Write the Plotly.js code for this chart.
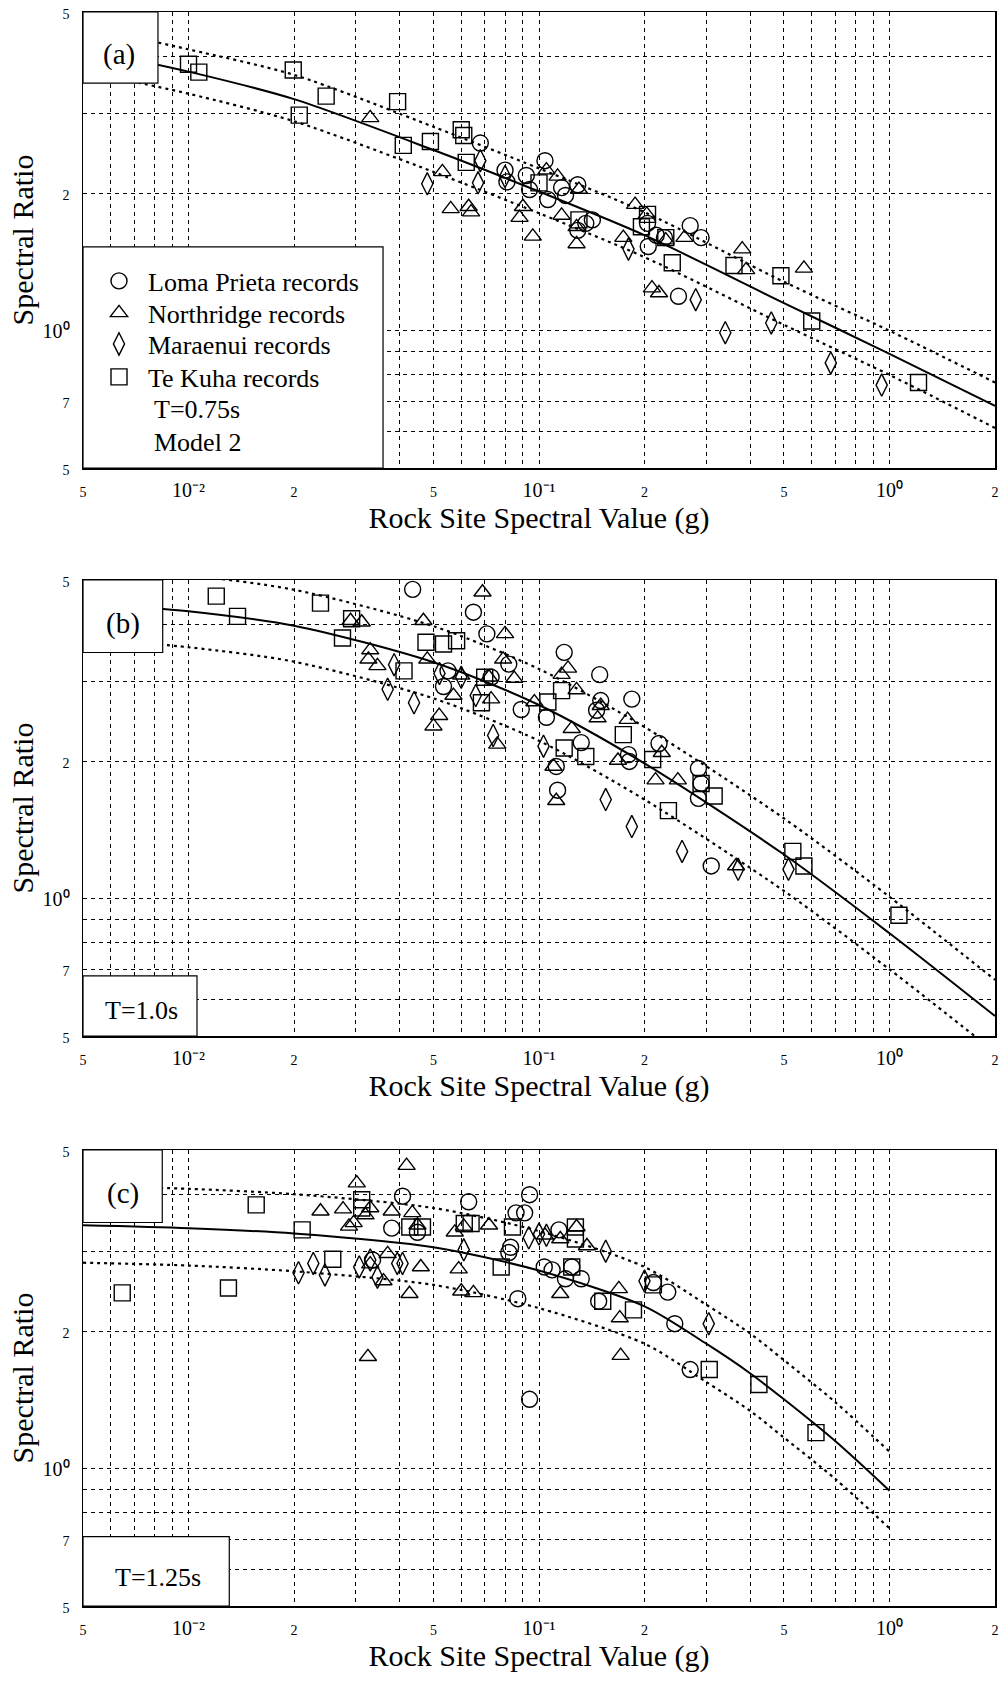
<!DOCTYPE html>
<html>
<head>
<meta charset="utf-8">
<script src="https://cdn.plot.ly/plotly-3.0.1.min.js"></script>
<style>
  html, body { margin: 0; padding: 0; background: #ffffff; }
  #chart { width: 1002px; height: 1681px; }
</style>
</head>
<body>
<div id="chart"></div>
<script>
// ---------- Panel (a): T = 0.75 s ----------
const lomaX_a = [0.068, 0.080, 0.081, 0.092, 0.094, 0.104, 0.106, 0.116, 0.119, 0.129, 0.129, 0.136, 0.142, 0.204, 0.216, 0.228, 0.205, 0.270, 0.290, 0.250];
const lomaY_a = [2.58, 2.25, 2.12, 2.19, 2.04, 2.36, 1.94, 2.06, 1.98, 2.09, 1.66, 1.72, 1.75, 1.72, 1.62, 1.60, 1.53, 1.70, 1.60, 1.19];
const northX_a = [0.033, 0.053, 0.056, 0.063, 0.064, 0.088, 0.090, 0.096, 0.105, 0.113, 0.116, 0.128, 0.128, 0.130, 0.174, 0.188, 0.203, 0.230, 0.260, 0.380, 0.390, 0.570, 0.210, 0.220];
const northY_a = [2.93, 2.23, 1.85, 1.87, 1.82, 1.77, 1.87, 1.61, 2.25, 2.18, 1.79, 1.69, 1.55, 2.04, 1.60, 1.89, 1.80, 1.58, 1.60, 1.51, 1.36, 1.37, 1.24, 1.21];
const maraX_a = [0.048, 0.067, 0.068, 0.080, 0.180, 0.280, 0.340, 0.460, 0.680, 0.950];
const maraY_a = [2.10, 2.11, 2.36, 2.18, 1.51, 1.17, 0.99, 1.04, 0.85, 0.76];
const kuhaX_a = [0.0100, 0.0107, 0.0199, 0.0207, 0.0247, 0.0395, 0.0410, 0.0490, 0.0600, 0.0610, 0.0620, 0.100, 0.130, 0.196, 0.204, 0.230, 0.240, 0.360, 0.490, 0.600, 1.210];
const kuhaY_a = [3.84, 3.69, 3.73, 2.97, 3.27, 3.18, 2.55, 2.60, 2.76, 2.68, 2.34, 2.11, 1.75, 1.69, 1.80, 1.60, 1.41, 1.39, 1.32, 1.05, 0.77];
const modelX_a = [0.005, 0.01, 0.02, 0.05, 0.1, 0.2, 0.5, 1, 2];
const modelMid_a = [4.15, 3.70, 3.22, 2.49, 2.02, 1.62, 1.15, 0.89, 0.684];
const modelUp_a  = [4.65, 4.14, 3.64, 2.80, 2.27, 1.82, 1.28, 1.00, 0.77];
const modelLow_a = [3.71, 3.31, 2.88, 2.23, 1.81, 1.45, 1.03, 0.80, 0.612];

// ---------- Panel (b): T = 1.0 s ----------
const lomaX_b = [0.0436, 0.065, 0.071, 0.055, 0.0534, 0.073, 0.082, 0.089, 0.105, 0.112, 0.113, 0.118, 0.132, 0.146, 0.149, 0.150, 0.180, 0.181, 0.184, 0.220, 0.285, 0.290, 0.285, 0.310];
const lomaY_b = [4.77, 4.25, 3.81, 3.16, 2.92, 3.06, 3.27, 2.60, 2.50, 1.95, 1.73, 3.47, 2.20, 2.59, 3.10, 2.72, 2.07, 2.00, 2.74, 2.19, 1.93, 1.79, 1.66, 1.18];
const northX_b = [0.029, 0.0312, 0.033, 0.0326, 0.0346, 0.0468, 0.048, 0.0519, 0.050, 0.057, 0.060, 0.069, 0.080, 0.072, 0.073, 0.079, 0.085, 0.076, 0.097, 0.110, 0.112, 0.116, 0.121, 0.124, 0.128, 0.147, 0.150, 0.168, 0.179, 0.215, 0.224, 0.249, 0.365];
const northY_b = [4.07, 4.04, 3.51, 3.35, 3.24, 4.07, 3.35, 2.52, 2.39, 2.79, 3.09, 4.70, 3.81, 3.06, 2.74, 3.35, 3.04, 2.18, 2.70, 1.95, 1.64, 3.10, 3.20, 2.36, 2.87, 2.49, 2.65, 2.01, 2.47, 1.82, 2.09, 1.82, 1.18];
const maraX_b = [0.0386, 0.037, 0.044, 0.052, 0.060, 0.066, 0.074, 0.103, 0.155, 0.184, 0.256, 0.370, 0.515];
const maraY_b = [3.26, 2.88, 2.69, 3.12, 3.06, 2.79, 2.28, 2.16, 1.65, 1.44, 1.27, 1.16, 1.16];
const kuhaX_b = [0.012, 0.0138, 0.0238, 0.0292, 0.0275, 0.0412, 0.0476, 0.0534, 0.0582, 0.070, 0.0685, 0.106, 0.116, 0.118, 0.136, 0.174, 0.211, 0.234, 0.290, 0.316, 0.530, 0.570, 1.064];
const kuhaY_b = [4.61, 4.16, 4.45, 4.11, 3.73, 3.16, 3.65, 3.62, 3.68, 3.06, 2.69, 2.70, 2.86, 2.14, 2.05, 2.29, 2.02, 1.56, 1.79, 1.68, 1.27, 1.18, 0.92];
const modelX_b = [0.005, 0.01, 0.02, 0.05, 0.1, 0.2, 0.5, 1, 2];
const modelMid_b = [4.46, 4.27, 3.97, 3.30, 2.66, 1.98, 1.25, 0.84, 0.553];
const modelUp_b  = [5.35, 5.12, 4.76, 3.96, 3.19, 2.38, 1.50, 1.01, 0.664];
const modelLow_b = [3.72, 3.56, 3.31, 2.75, 2.22, 1.65, 1.04, 0.70, 0.461];

// ---------- Panel (c): T = 1.25 s ----------
const lomaX_c = [0.0335, 0.038, 0.0408, 0.045, 0.063, 0.083, 0.082, 0.086, 0.091, 0.094, 0.087, 0.094, 0.1035, 0.109, 0.114, 0.119, 0.124, 0.132, 0.148, 0.212, 0.233, 0.244, 0.270];
const lomaY_c = [2.87, 3.37, 3.96, 3.30, 3.85, 3.06, 2.98, 3.64, 3.64, 3.99, 2.36, 1.42, 2.77, 2.73, 3.34, 2.61, 2.77, 2.61, 2.33, 2.56, 2.44, 2.08, 1.65];
const northX_c = [0.0238, 0.0276, 0.0287, 0.0296, 0.0302, 0.032, 0.033, 0.033, 0.0325, 0.036, 0.037, 0.038, 0.0419, 0.0427, 0.0435, 0.045, 0.046, 0.0575, 0.059, 0.060, 0.061, 0.065, 0.072, 0.104, 0.115, 0.115, 0.128, 0.137, 0.169, 0.170, 0.171];
const northY_c = [3.67, 3.71, 3.40, 3.46, 4.23, 3.60, 3.73, 2.81, 1.76, 2.58, 2.96, 3.67, 4.62, 2.42, 3.64, 3.42, 2.77, 3.30, 2.74, 2.45, 3.40, 2.43, 3.42, 3.25, 3.19, 2.42, 3.39, 3.08, 2.48, 2.14, 1.77];
const maraX_c = [0.0206, 0.0227, 0.0245, 0.0307, 0.033, 0.0346, 0.0394, 0.0408, 0.061, 0.0935, 0.100, 0.105, 0.155, 0.200, 0.305];
const maraY_c = [2.69, 2.82, 2.66, 2.77, 2.87, 2.63, 2.82, 2.82, 3.02, 3.21, 3.27, 3.25, 3.00, 2.58, 2.08];
const kuhaX_c = [0.00647, 0.0130, 0.0156, 0.0211, 0.0258, 0.0312, 0.0312, 0.0428, 0.0465, 0.0612, 0.064, 0.078, 0.084, 0.127, 0.127, 0.124, 0.152, 0.186, 0.212, 0.306, 0.424, 0.617];
const kuhaY_c = [2.43, 2.49, 3.79, 3.34, 2.88, 3.89, 3.73, 3.39, 3.39, 3.45, 3.45, 2.77, 3.39, 3.39, 3.19, 2.77, 2.33, 2.23, 2.53, 1.65, 1.53, 1.20];
const modelX_c = [0.005, 0.01, 0.02, 0.05, 0.1, 0.2, 0.3, 0.4, 0.5, 0.7, 1.0];
const modelMid_c = [3.42, 3.37, 3.28, 3.06, 2.72, 2.27, 1.88, 1.62, 1.42, 1.15, 0.895];
const modelUp_c  = [4.17, 4.11, 4.00, 3.73, 3.32, 2.77, 2.29, 1.98, 1.73, 1.40, 1.09];
const modelLow_c = [2.83, 2.79, 2.71, 2.53, 2.25, 1.88, 1.55, 1.34, 1.17, 0.95, 0.74];

// ---------- Axis grids and tick labels ----------
const xTickVals = [0.005, 0.01, 0.02, 0.05, 0.1, 0.2, 0.5, 1, 2];
const xTickLabels = ['5', '10⁻²', '2', '5', '10⁻¹', '2', '5', '10⁰', '2'];
const xGridVals = [0.006, 0.007, 0.008, 0.009, 0.03, 0.04, 0.06, 0.07, 0.08, 0.09,
                   0.3, 0.4, 0.6, 0.7, 0.8, 0.9];
const yTickVals = [0.5, 0.7, 1, 2, 5];
const yTickLabels = ['5', '7', '10⁰', '2', '5'];
const yGridVals = [0.6, 0.8, 0.9, 3, 4];

const seriesNames = ['Loma Prieta records', 'Northridge records', 'Maraenui records', 'Te Kuha records'];
const panelLetters = ['(a)', '(b)', '(c)'];
const periodLabels = ['T=0.75s', 'T=1.0s', 'T=1.25s'];
const modelLabel = 'Model 2';
const xTitle = 'Rock Site Spectral Value (g)';
const yTitle = 'Spectral Ratio';

// ---------- Styling ----------
const FONT = '"Liberation Serif", "Times New Roman", Times, serif';
const INK = '#000000';
const W = 1002, H = 1681;
const X_DOMAIN = [83 / W, 995 / W];
const Y_DOMAINS = [
  [1 - 468 / H, 1 - 12 / H],
  [1 - 1036 / H, 1 - 580 / H],
  [1 - 1606 / H, 1 - 1150 / H]
];
const GRID = { showgrid: true, gridcolor: INK, gridwidth: 1, griddash: '4px,4px' };

// Decade labels stay full size; the mantissa digits between decades are set smaller.
function fmtTick(t) {
  if (t.indexOf('10') === 0) return t;
  return '<span style="font-size:14px">' + t + '</span>';
}

const symbolSpec = [
  { symbol: 'circle-open', size: 16 },
  { symbol: 'triangle-up-open', size: 15 },
  { symbol: 'diamond-tall-open', size: 16 },
  { symbol: 'square-open', size: 16 }
];

const panels = [
  { series: [[lomaX_a, lomaY_a], [northX_a, northY_a], [maraX_a, maraY_a], [kuhaX_a, kuhaY_a]],
    model: [modelX_a, modelMid_a, modelUp_a, modelLow_a] },
  { series: [[lomaX_b, lomaY_b], [northX_b, northY_b], [maraX_b, maraY_b], [kuhaX_b, kuhaY_b]],
    model: [modelX_b, modelMid_b, modelUp_b, modelLow_b] },
  { series: [[lomaX_c, lomaY_c], [northX_c, northY_c], [maraX_c, maraY_c], [kuhaX_c, kuhaY_c]],
    model: [modelX_c, modelMid_c, modelUp_c, modelLow_c] }
];

const traces = [];
const layout = {
  width: W, height: H,
  margin: { l: 0, r: 0, t: 0, b: 0, pad: 0 },
  paper_bgcolor: '#ffffff',
  plot_bgcolor: '#ffffff',
  font: { family: FONT, color: INK, size: 20 },
  showlegend: true,
  shapes: [],
  annotations: []
};

const legendRowsPx = [281, 313, 344, 377];
const legendKeys = ['legend', 'legend2', 'legend3', 'legend4'];

panels.forEach(function (p, i) {
  const xa = i === 0 ? 'x' : 'x' + (i + 1);
  const ya = i === 0 ? 'y' : 'y' + (i + 1);
  const xKey = i === 0 ? 'xaxis' : 'xaxis' + (i + 1);
  const yKey = i === 0 ? 'yaxis' : 'yaxis' + (i + 1);

  // model fit: solid median, dotted bounds
  const mx = p.model[0];
  [[p.model[1], 'solid', 2], [p.model[2], '3px,4px', 2.2], [p.model[3], '3px,4px', 2.2]].forEach(function (m) {
    traces.push({
      type: 'scatter', mode: 'lines', x: mx, y: m[0], xaxis: xa, yaxis: ya,
      line: { color: INK, width: m[2], dash: m[1], shape: 'spline', smoothing: 0.8 },
      showlegend: false, hoverinfo: 'skip'
    });
  });

  // records
  p.series.forEach(function (s, k) {
    const t = {
      type: 'scatter', mode: 'markers', x: s[0], y: s[1], xaxis: xa, yaxis: ya,
      name: seriesNames[k],
      marker: { symbol: symbolSpec[k].symbol, size: symbolSpec[k].size, color: INK,
                line: { color: INK, width: 1.4 } },
      showlegend: i === 0,
      hoverinfo: 'x+y+name'
    };
    if (i === 0) t.legend = legendKeys[k];
    traces.push(t);
  });

  layout[xKey] = Object.assign({
    type: 'log', domain: X_DOMAIN, anchor: ya,
    range: [Math.log10(0.005), Math.log10(2)],
    tickmode: 'array', tickvals: xTickVals, ticktext: xTickLabels.map(fmtTick),
    ticks: '', ticklabelstandoff: 3,
    tickfont: { family: FONT, size: 20, color: INK },
    minor: Object.assign({ tickmode: 'array', tickvals: xGridVals, ticks: '' }, GRID),
    showline: true, mirror: true, linecolor: INK, linewidth: 1.5,
    zeroline: false, automargin: false,
    title: { text: xTitle, font: { family: FONT, size: 30, color: INK }, standoff: 6 }
  }, GRID);
  layout[yKey] = Object.assign({
    type: 'log', domain: Y_DOMAINS[i], anchor: xa,
    range: [Math.log10(0.5), Math.log10(5)],
    tickmode: 'array', tickvals: yTickVals, ticktext: yTickLabels.map(fmtTick),
    ticks: '', ticklabelstandoff: 8,
    tickfont: { family: FONT, size: 20, color: INK },
    minor: Object.assign({ tickmode: 'array', tickvals: yGridVals, ticks: '' }, GRID),
    showline: true, mirror: true, linecolor: INK, linewidth: 1.5,
    zeroline: false, automargin: false,
    title: { text: yTitle, font: { family: FONT, size: 30, color: INK }, standoff: 0 }
  }, GRID);

  const xd = xa + ' domain', yd = ya + ' domain';
  const box = function (x1, y0, y1) {
    return { type: 'rect', xref: xd, yref: yd, x0: 0, x1: x1, y0: y0, y1: y1,
             fillcolor: '#ffffff', line: { color: INK, width: 1.2 }, layer: 'above' };
  };
  // panel letter box
  const letterBox = [[0.0822, 0.844], [0.0874, 0.841], [0.0869, 0.841]][i];
  layout.shapes.push(box(letterBox[0], letterBox[1], 1));
  const letterPos = [[0.0395, 0.906], [0.0435, 0.904], [0.0442, 0.904]][i];
  layout.annotations.push({
    xref: xd, yref: yd, x: letterPos[0], y: letterPos[1], xanchor: 'center', yanchor: 'middle',
    text: panelLetters[i], showarrow: false, font: { family: FONT, size: 29, color: INK }
  });

  if (i === 0) {
    // legend / caption box
    layout.shapes.push(box(0.329, 0, 0.485));
    layout.annotations.push({
      xref: xd, yref: yd, x: 0.0753, y: 0.129, xanchor: 'left', yanchor: 'middle',
      text: periodLabels[0], showarrow: false, font: { family: FONT, size: 26, color: INK }
    });
    layout.annotations.push({
      xref: xd, yref: yd, x: 0.0753, y: 0.057, xanchor: 'left', yanchor: 'middle',
      text: modelLabel, showarrow: false, font: { family: FONT, size: 26, color: INK }
    });
  } else {
    const tb = [null, [0.125, 0.132, 0.0644, 0.055], [0.1604, 0.152, 0.0826, 0.0634]][i];
    layout.shapes.push(box(tb[0], 0, tb[1]));
    layout.annotations.push({
      xref: xd, yref: yd, x: tb[2], y: tb[3], xanchor: 'center', yanchor: 'middle',
      text: periodLabels[i], showarrow: false, font: { family: FONT, size: 26, color: INK }
    });
  }
});

// one legend per record set, stacked inside the caption box of panel (a)
legendKeys.forEach(function (key, k) {
  layout[key] = {
    x: 90 / W, y: 1 - legendRowsPx[k] / H, xanchor: 'left', yanchor: 'middle',
    bgcolor: 'rgba(0,0,0,0)', borderwidth: 0,
    font: { family: FONT, size: 26, color: INK },
    itemwidth: 48, itemclick: false, itemdoubleclick: false
  };
});

Plotly.newPlot('chart', traces, layout, { displayModeBar: false, staticPlot: true });
</script>
</body>
</html>
